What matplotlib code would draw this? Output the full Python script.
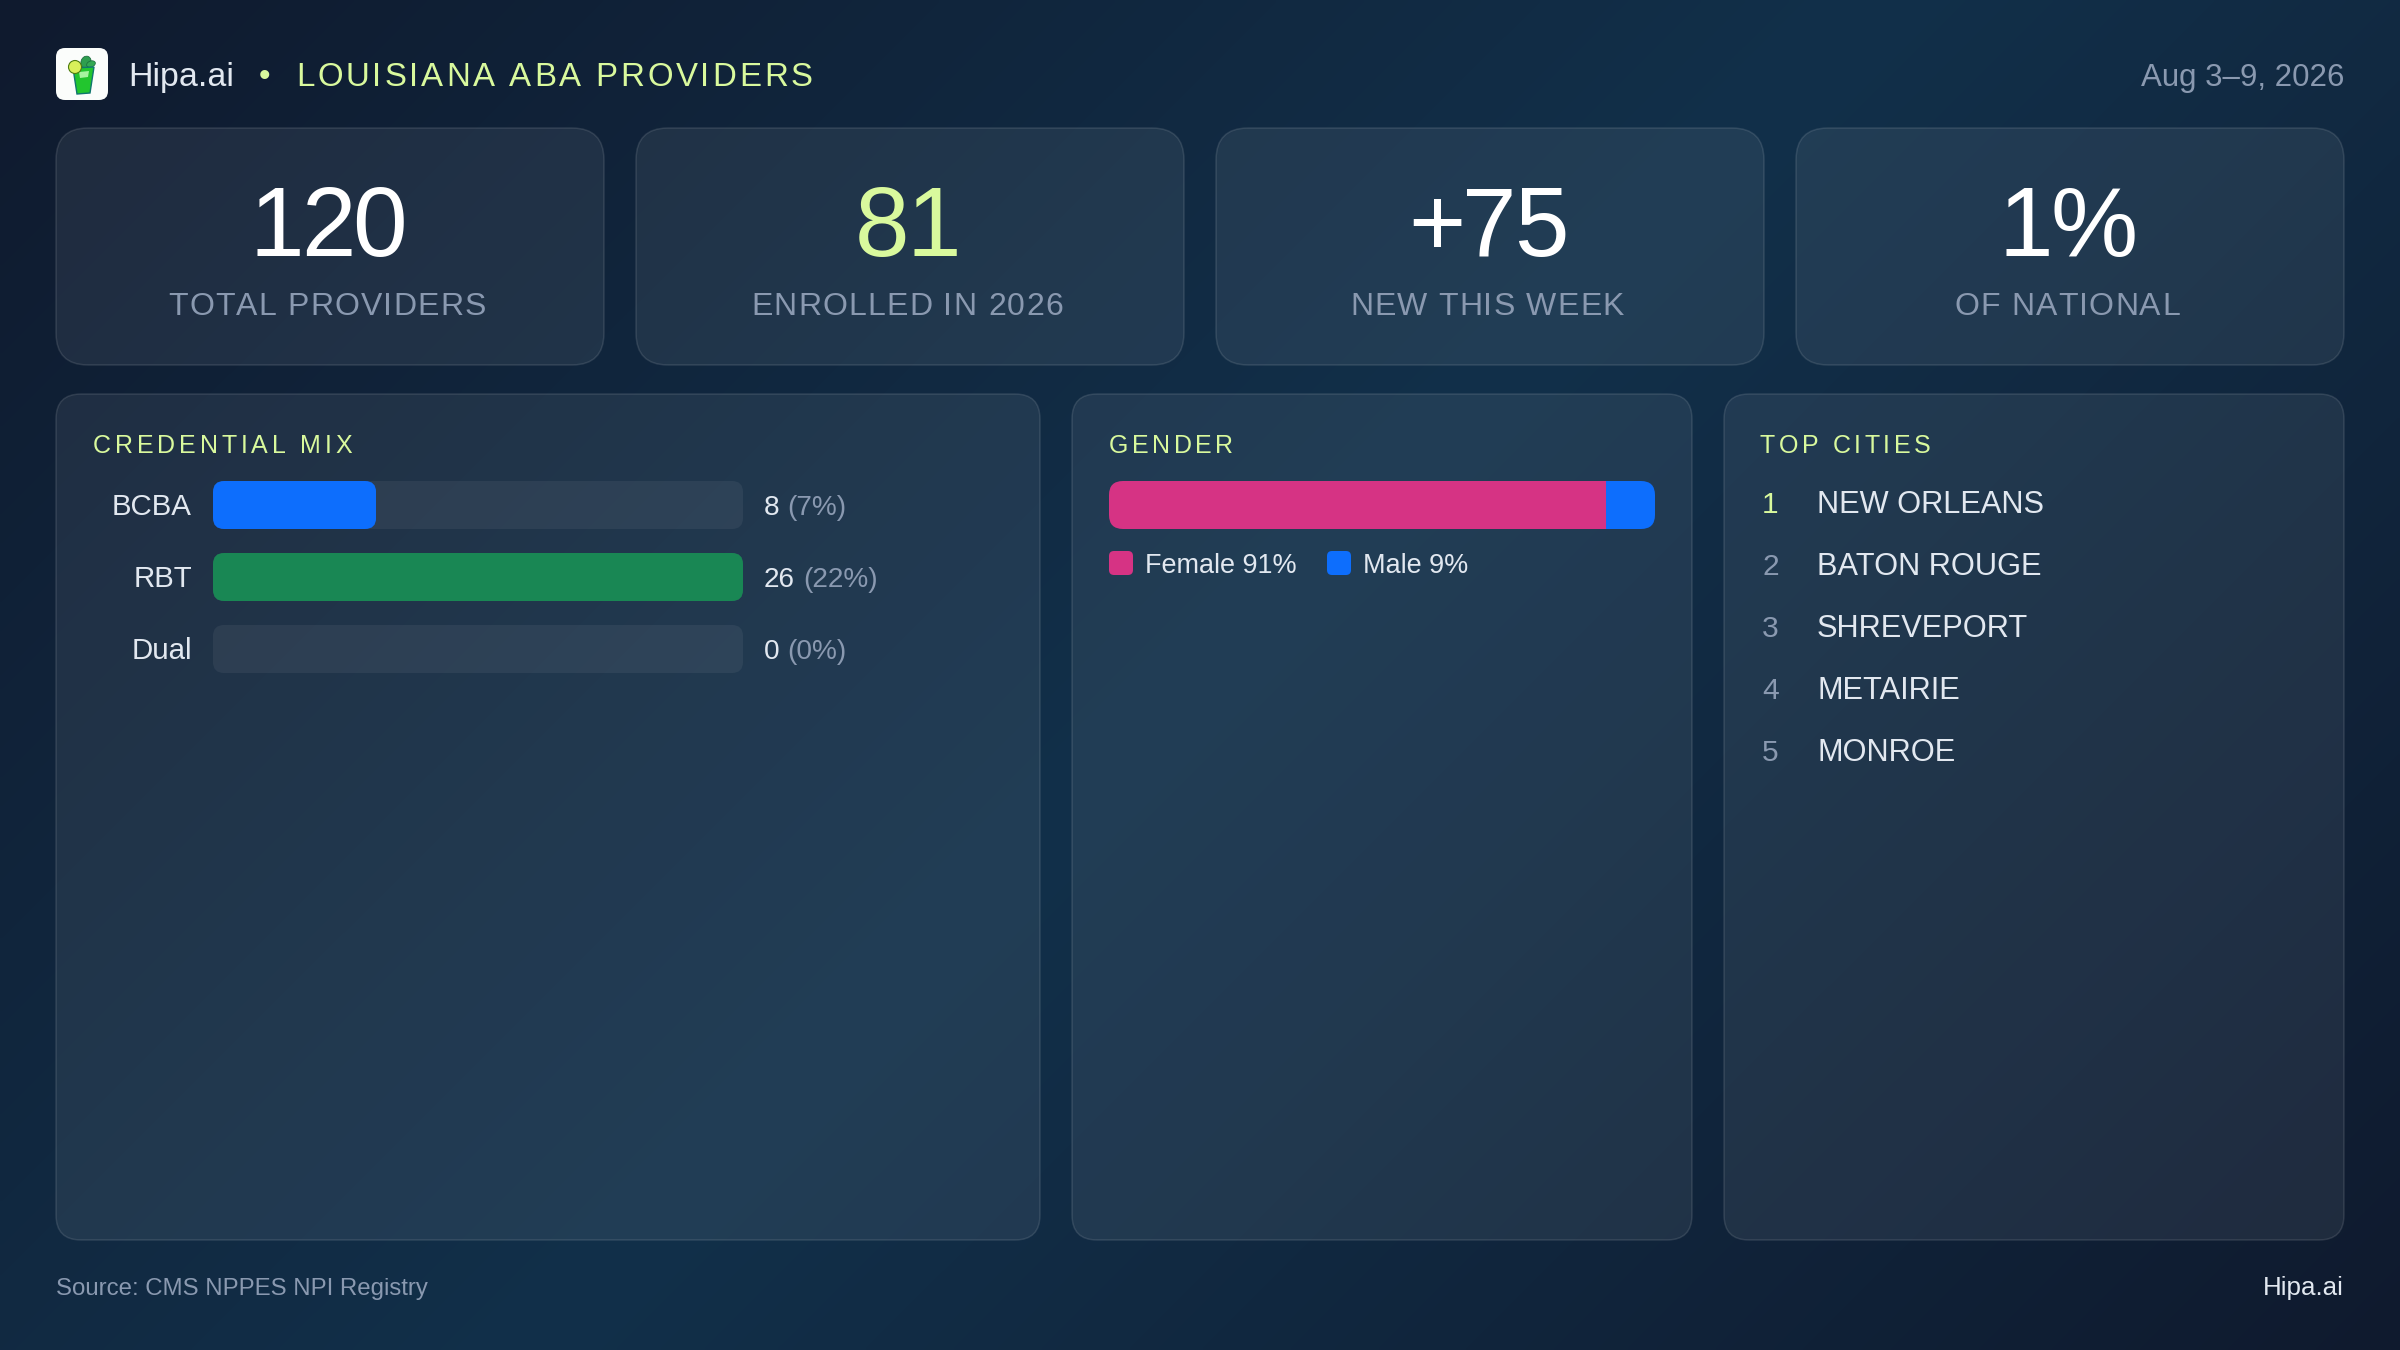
import matplotlib
matplotlib.use("Agg")
import matplotlib.pyplot as plt
import matplotlib.font_manager as fm
import numpy as np
from matplotlib.colors import LinearSegmentedColormap
from matplotlib.ft2font import LoadFlags
from matplotlib.patches import FancyBboxPatch, Polygon, Circle, Ellipse
from matplotlib.text import Text
from matplotlib.transforms import IdentityTransform

# Data
brand = "Hipa.ai"
title = "LOUISIANA ABA PROVIDERS"
date_range = "Aug 3–9, 2026"
source = "Source: CMS NPPES NPI Registry"

stat_values = ["120", "81", "+75", "1%"]
stat_labels = ["TOTAL PROVIDERS", "ENROLLED IN 2026", "NEW THIS WEEK", "OF NATIONAL"]

cred_labels = ["BCBA", "RBT", "Dual"]
cred_counts = [8, 26, 0]
cred_pcts = [7, 22, 0]

gender_labels = ["Female", "Male"]
gender_pcts = [91, 9]

cities = ["NEW ORLEANS", "BATON ROUGE", "SHREVEPORT", "METAIRIE", "MONROE"]

# Colours
LIME = "#d9f99d"
WHITE = "#ffffff"
LIGHT = "#e2e8f0"
MUTED = "#8a99b0"
BLUE = "#0d6efd"
GREEN = "#198754"
PINK = "#d63384"

W, H = 2400, 1350
SANS = "Liberation Sans"


def px(size):
    # font size given in pixels, figure is at 100 dpi
    return size * 0.72


class TrackedText(Text):
    # one text object with letter spacing (in pixels), matplotlib has no option for it
    def __init__(self, *args, tracking=0, **kwargs):
        super().__init__(*args, **kwargs)
        self.tracking = tracking

    def advances(self):
        font = fm.get_font(fm.findfont(self.get_fontproperties()))
        font.set_size(self.get_fontsize(), self.get_figure().dpi)
        return [font.load_char(ord(c), flags=LoadFlags.NO_HINTING).linearHoriAdvance / 65536 + self.tracking
                for c in self.get_text()]

    def draw(self, renderer):
        x, y = self.get_transform().transform(self.get_position())
        adv = self.advances()
        # the last letter has no spacing after it
        total = sum(adv) - self.tracking
        x -= {"left": 0, "center": total / 2, "right": total}[self.get_ha()]
        for c, a in zip(self.get_text(), adv):
            if c != " ":
                part = Text(x, y, c, transform=IdentityTransform(), color=self.get_color(),
                            fontproperties=self.get_fontproperties(), ha="left", va="baseline")
                part.set_figure(self.get_figure())
                part.draw(renderer)
            x += a


fig = plt.figure(figsize=(W / 100, H / 100), dpi=100)
ax = fig.add_axes([0, 0, 1, 1])
ax.set_xlim(0, W)
ax.set_ylim(H, 0)
ax.axis("off")

# Diagonal page background
yy, xx = np.mgrid[0:H:4, 0:W:4]
cmap = LinearSegmentedColormap.from_list("bg", ["#0f1a2e", "#12304a", "#0f1a2e"])
ax.imshow((xx + yy) / (W + H), cmap=cmap, vmin=0, vmax=1, extent=[0, W, H, 0],
          aspect="auto", interpolation="bilinear", zorder=0)


def card(x0, y0, x1, y1, r):
    ax.add_patch(FancyBboxPatch((x0, y0), x1 - x0, y1 - y0,
                                boxstyle=f"round,pad=0,rounding_size={r}",
                                fc=(1, 1, 1, 0.07), ec=(1, 1, 1, 0.11), lw=1.1, zorder=1))


def label(x, y, s, size, color, ha="left"):
    return ax.text(x, y, s, fontsize=px(size), color=color, ha=ha, va="baseline",
                   family=SANS, zorder=5)


def tracked(x, y, s, size, color, tracking, ha="left"):
    t = TrackedText(x, y, s, fontsize=px(size), color=color, ha=ha, va="baseline",
                    family=SANS, zorder=5, tracking=tracking)
    ax.add_artist(t)
    return t


def bar_axes(x0, y0, x1, y1):
    a = fig.add_axes([x0 / W, 1 - y1 / H, (x1 - x0) / W, (y1 - y0) / H])
    a.axis("off")
    a.patch.set_alpha(0)
    return a


def round_bar(rect, r):
    # clip a library-drawn bar to rounded corners, in display pixels
    box = rect.get_window_extent()
    clip = FancyBboxPatch((box.x0, box.y0), box.width, box.height,
                          boxstyle=f"round,pad=0,rounding_size={r}",
                          transform=IdentityTransform())
    rect.set_clip_path(clip)


# Header
ax.add_patch(FancyBboxPatch((56, 48), 52, 52, boxstyle="round,pad=0,rounding_size=9",
                            fc="#fbfdfb", ec="none", zorder=2))
ax.add_patch(Ellipse((86, 62), 10, 12, angle=20, fc="#2e9e4f", ec="#17663a", lw=0.5, zorder=3))
ax.add_patch(Ellipse((91, 64), 9, 6, angle=-20, fc="#34a853", ec="#17663a", lw=0.5, zorder=3))
ax.add_patch(Polygon([(73, 68), (94, 67), (90, 93), (77, 94)], closed=True,
                     fc="#22c52e", ec="#0f766e", lw=1.0, zorder=3))
ax.add_patch(Polygon([(79, 72), (89, 71), (88, 77), (80, 78)], closed=True,
                     fc="#a7f3a0", ec="none", zorder=3))
ax.add_patch(Circle((75, 67), 6.5, fc="#d9ef5a", ec="#4d7c0f", lw=0.8, zorder=4))

label(128, 86, brand, 34, LIGHT)
label(265, 86, "•", 33, LIME, ha="center")
tracked(296, 86, title, 33, LIME, 2.8)
label(2344, 86, date_range, 31.3, MUTED, ha="right")

# Stat cards
card_x = [56, 636, 1216, 1796]
for i, x in enumerate(card_x):
    card(x, 128, x + 548, 365, 32)
    cx = x + 272
    tracked(cx, 256, stat_values[i], 98, LIME if i == 1 else WHITE, -3, ha="center")
    tracked(cx - 1, 315, stat_labels[i], 32, MUTED, 1.2, ha="center")

# Panels
card(56, 394, 1040, 1240, 25)
card(1072, 394, 1692, 1240, 25)
card(1724, 394, 2344, 1240, 25)
tracked(93, 453, "CREDENTIAL MIX", 25, LIME, 3.8)
tracked(1109, 453, "GENDER", 25, LIME, 3.5)
tracked(1760, 453, "TOP CITIES", 25, LIME, 3.5)

# Credential bars
row = 72
bar_h = 48
ax_cred = bar_axes(213, 481, 743, 673)
ax_cred.set_xlim(0, max(cred_counts))
ax_cred.set_ylim(2 + bar_h / row / 2, -bar_h / row / 2)
ypos = np.arange(len(cred_labels))
tracks = ax_cred.barh(ypos, [max(cred_counts)] * len(ypos), height=bar_h / row,
                      color=(1, 1, 1, 0.06), linewidth=0)
fills = ax_cred.barh(ypos, cred_counts, height=bar_h / row, color=[BLUE, GREEN, BLUE], linewidth=0)
for rect in list(tracks) + list(fills):
    round_bar(rect, 11)

renderer = fig.canvas.get_renderer()
for i, name in enumerate(cred_labels):
    base = 515 + i * row
    label(192, base, name, 29.5, LIGHT, ha="right")
    t = label(764, base, str(cred_counts[i]), 28, LIGHT)
    end = t.get_window_extent(renderer).x1
    label(end + 8, base, f"({cred_pcts[i]}%)", 28, MUTED)

# Gender bar
ax_gen = bar_axes(1109, 481, 1655, 529)
ax_gen.set_xlim(0, sum(gender_pcts))
ax_gen.set_ylim(-0.5, 0.5)
seg1 = ax_gen.barh([0], [gender_pcts[0]], height=1, color=PINK, linewidth=0)
seg2 = ax_gen.barh([0], [gender_pcts[1]], left=[gender_pcts[0]], height=1, color=BLUE, linewidth=0)
track_clip = FancyBboxPatch((1109, H - 529), 546, 48, boxstyle="round,pad=0,rounding_size=14",
                            transform=IdentityTransform())
seg1[0].set_clip_path(track_clip)
seg2[0].set_clip_path(track_clip)

legend_x = [1109, 1327]
for i, name in enumerate(gender_labels):
    ax.add_patch(FancyBboxPatch((legend_x[i], 551), 24, 24, boxstyle="round,pad=0,rounding_size=5",
                                fc=[PINK, BLUE][i], ec="none", zorder=3))
    label(legend_x[i] + 36, 573, f"{name} {gender_pcts[i]}%", 27, LIGHT)

# Top cities
for i, city in enumerate(cities):
    base = 513 + i * 62
    label(1762, base, str(i + 1), 30, LIME if i == 0 else MUTED)
    label(1817, base, city, 30.8, LIGHT)

# Footer
label(56, 1295, source, 24, MUTED)
label(2344, 1295, brand, 26, LIGHT, ha="right")

fig.savefig("out.png", dpi=100)
plt.close(fig)
